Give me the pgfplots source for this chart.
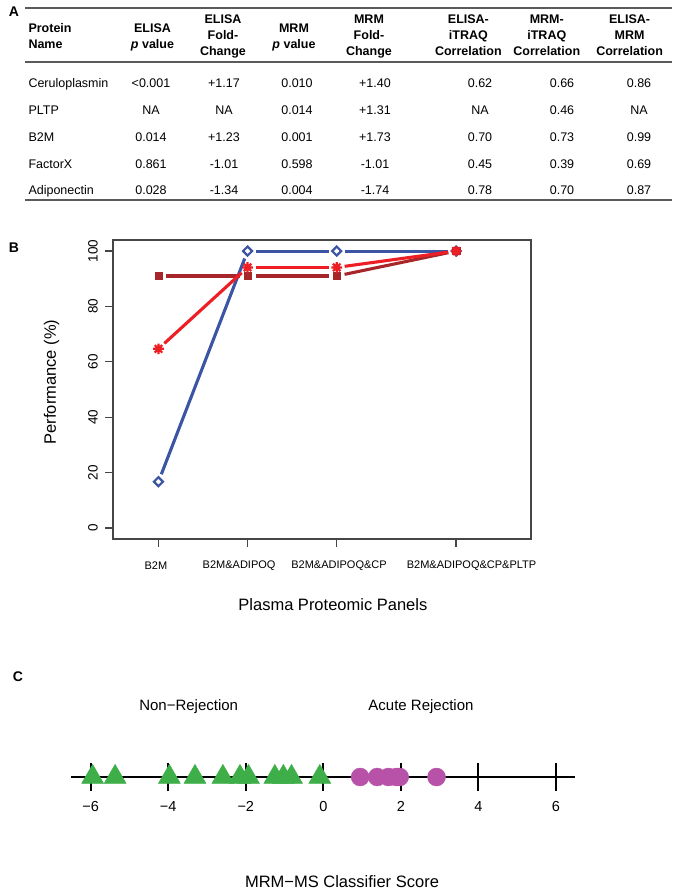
\documentclass[border=0pt]{standalone}
\usepackage{fontspec}
\setmainfont{Liberation Sans}
\usepackage{pgfplots}
\usepackage{pgfplotstable}
\pgfplotsset{compat=1.18}
\definecolor{cblue}{RGB}{59,84,164}
\definecolor{cred}{RGB}{237,30,36}
\definecolor{cdred}{RGB}{167,38,42}
\definecolor{cgreen}{RGB}{62,174,73}
\definecolor{cmag}{RGB}{183,82,168}
\definecolor{rgray}{RGB}{90,90,90}
\definecolor{fgray}{RGB}{70,70,70}

\pgfdeclareplotmark{burst}{%
  \pgfpathcircle{\pgfpointorigin}{0.55\pgfplotmarksize}\pgfusepathqfill
  \pgfpathmoveto{\pgfqpoint{-\pgfplotmarksize}{0pt}}\pgfpathlineto{\pgfqpoint{\pgfplotmarksize}{0pt}}%
  \pgfpathmoveto{\pgfqpoint{0pt}{-\pgfplotmarksize}}\pgfpathlineto{\pgfqpoint{0pt}{\pgfplotmarksize}}%
  \pgfpathmoveto{\pgfqpoint{-0.707\pgfplotmarksize}{-0.707\pgfplotmarksize}}\pgfpathlineto{\pgfqpoint{0.707\pgfplotmarksize}{0.707\pgfplotmarksize}}%
  \pgfpathmoveto{\pgfqpoint{-0.707\pgfplotmarksize}{0.707\pgfplotmarksize}}\pgfpathlineto{\pgfqpoint{0.707\pgfplotmarksize}{-0.707\pgfplotmarksize}}%
  \pgfusepathqstroke}
\pgfdeclareplotmark{rdiamond}{%
  \pgfpathmoveto{\pgfqpoint{0pt}{\pgfplotmarksize}}\pgfpathlineto{\pgfqpoint{\pgfplotmarksize}{0pt}}%
  \pgfpathlineto{\pgfqpoint{0pt}{-\pgfplotmarksize}}\pgfpathlineto{\pgfqpoint{-\pgfplotmarksize}{0pt}}%
  \pgfpathclose\pgfusepathqfillstroke}

\pgfplotstableread{
x blue red dred
1 16.7 64.7 91.0
2 100 94.1 91.0
3 100 94.1 91.0
4.34 100 100 100
}\perf

\pgfplotstableread{
s y
-5.95 0
-5.37 0
-3.97 0
-3.31 0
-2.59 0
-2.15 0
-1.93 0
-1.25 0
-1.03 0
-0.82 0
-0.09 0
}\nonrej

\pgfplotstableread{
s y
0.95 0
1.39 0
1.68 0
1.89 0
1.97 0
2.92 0
}\acute

\tikzset{
  tb/.style={font=\fontsize{12.5}{15}\selectfont, anchor=base, inner sep=0pt},
  tbl/.style={tb, anchor=base west},
  th/.style={font=\bfseries\fontsize{12.5}{15}\selectfont, anchor=base, inner sep=0pt},
  thl/.style={th, anchor=base west},
  plab/.style={font=\bfseries\fontsize{14}{16}\selectfont, anchor=center, inner sep=0pt},
}
\pgfplotsset{seg/.style={no marks, line width=3.1pt, shorten >=8pt, shorten <=8pt}}

\begin{document}
\begin{tikzpicture}
\useasboundingbox (0,0) rectangle (681pt,-891pt);

% ---------------- Panel A (table) ----------------
\node[plab] at (14pt,-12pt) {A};
\draw[rgray, line width=1.8pt] (25pt,-8pt) -- (672pt,-8pt);
\draw[rgray, line width=1.4pt] (25pt,-62pt) -- (672pt,-62pt);
\draw[rgray, line width=1.8pt] (25pt,-200pt) -- (672pt,-200pt);
% headers
\node[thl] at (28.3pt,-32.5pt) {Protein};
\node[thl] at (28.3pt,-48.5pt) {Name};
\node[th] at (152.5pt,-32.5pt) {ELISA};
\node[th] at (152.5pt,-48.5pt) {\textit{p} value};
\node[th] at (223pt,-23.5pt) {ELISA};
\node[th] at (223pt,-39.5pt) {Fold-};
\node[th] at (223pt,-55.5pt) {Change};
\node[th] at (294pt,-32.5pt) {MRM};
\node[th] at (294pt,-48.5pt) {\textit{p} value};
\node[th] at (369pt,-23.5pt) {MRM};
\node[th] at (369pt,-39.5pt) {Fold-};
\node[th] at (369pt,-55.5pt) {Change};
\node[th] at (468.4pt,-23.5pt) {ELISA-};
\node[th] at (468.4pt,-39.5pt) {iTRAQ};
\node[th] at (468.4pt,-55.5pt) {Correlation};
\node[th] at (546.8pt,-23.5pt) {MRM-};
\node[th] at (546.8pt,-39.5pt) {iTRAQ};
\node[th] at (546.8pt,-55.5pt) {Correlation};
\node[th] at (629.6pt,-23.5pt) {ELISA-};
\node[th] at (629.6pt,-39.5pt) {MRM};
\node[th] at (629.6pt,-55.5pt) {Correlation};
% rows
\foreach \yy/\a/\b/\c/\d/\e/\f/\g/\h in {
  87.5/Ceruloplasmin/<0.001/+1.17/0.010/+1.40/0.62/0.66/0.86,
  114.5/PLTP/NA/NA/0.014/+1.31/NA/0.46/NA,
  141.5/B2M/0.014/+1.23/0.001/+1.73/0.70/0.73/0.99,
  168.5/FactorX/0.861/-1.01/0.598/-1.01/0.45/0.39/0.69,
  194.5/Adiponectin/0.028/-1.34/0.004/-1.74/0.78/0.70/0.87}{
  \node[tbl] at (28.3pt,-\yy pt) {\a};
  \node[tb] at (151pt,-\yy pt) {\b};
  \node[tb] at (224pt,-\yy pt) {\c};
  \node[tb] at (297pt,-\yy pt) {\d};
  \node[tb] at (375pt,-\yy pt) {\e};
  \node[tb] at (480pt,-\yy pt) {\f};
  \node[tb] at (562pt,-\yy pt) {\g};
  \node[tb] at (639pt,-\yy pt) {\h};
}

% ---------------- Panel B ----------------
\node[plab] at (14pt,-248pt) {B};
\begin{axis}[
  at={(113pt,-539pt)}, anchor=south west, scale only axis,
  width=418pt, height=299pt,
  xmin=0.49, xmax=5.18, ymin=-4, ymax=104,
  xtick={1,2,3,4.34}, xticklabels={},
  ytick={0,20,40,60,80,100}, yticklabels={0,20,40,60,80,100},
  tick align=outside, major tick length=8pt,
  xtick pos=bottom, ytick pos=left,
  axis line style={fgray, line width=1.3pt},
  tick style={fgray, line width=1.3pt},
  y tick label style={font=\fontsize{13.5}{16}\selectfont, rotate=90, anchor=south, inner ysep=7pt},
  ylabel={Performance (\%)},
  ylabel style={at={(axis description cs:-0.1467,0.525)}, anchor=center, font=\fontsize{16.5}{19}\selectfont},
  xlabel={Plasma Proteomic Panels},
  xlabel style={at={(axis description cs:0.526,-0.221)}, anchor=center, font=\fontsize{16.5}{19}\selectfont},
  clip=false,
]
\addplot[seg, cblue, restrict x to domain=1:2] table[x=x,y=blue]{\perf};
\addplot[seg, cblue, restrict x to domain=2:3] table[x=x,y=blue]{\perf};
\addplot[seg, cblue, restrict x to domain=3:4.5] table[x=x,y=blue]{\perf};
\addplot[only marks, cblue, mark=rdiamond, mark size=4.5pt, mark options={fill=white, line width=2.2pt}] table[x=x,y=blue]{\perf};
\addplot[seg, cdred, restrict x to domain=1:2] table[x=x,y=dred]{\perf};
\addplot[seg, cdred, restrict x to domain=2:3] table[x=x,y=dred]{\perf};
\addplot[seg, cdred, restrict x to domain=3:4.5] table[x=x,y=dred]{\perf};
\addplot[only marks, cdred, mark=square*, mark size=3.6pt] table[x=x,y=dred]{\perf};
\addplot[seg, cred, restrict x to domain=1:2] table[x=x,y=red]{\perf};
\addplot[seg, cred, restrict x to domain=2:3] table[x=x,y=red]{\perf};
\addplot[seg, cred, restrict x to domain=3:4.5] table[x=x,y=red]{\perf};
\addplot[only marks, cred, mark=burst, mark size=5.3pt, mark options={line width=2.2pt}] table[x=x,y=red]{\perf};
\node[font=\fontsize{11}{13}\selectfont] at (axis cs:0.972,-13.77) {B2M};
\node[font=\fontsize{11}{13}\selectfont] at (axis cs:1.905,-13.77) {B2M\&ADIPOQ};
\node[font=\fontsize{11}{13}\selectfont] at (axis cs:3.026,-13.77) {B2M\&ADIPOQ\&CP};
\node[font=\fontsize{11}{13}\selectfont] at (axis cs:4.513,-13.77) {B2M\&ADIPOQ\&CP\&PLTP};
\end{axis}

% ---------------- Panel C ----------------
\node[plab] at (18pt,-677pt) {C};
\node[font=\fontsize{15}{18}\selectfont] at (188.7pt,-707pt) {Non−Rejection};
\node[font=\fontsize{15}{18}\selectfont] at (421pt,-707pt) {Acute Rejection};
\node[font=\fontsize{16.5}{19}\selectfont] at (342pt,-882pt) {MRM−MS Classifier Score};
\begin{axis}[
  at={(71.3pt,-777pt)}, anchor=south west, scale only axis,
  width=504pt, height=20pt,
  xmin=-6.5, xmax=6.5, ymin=0, ymax=1,
  axis x line=bottom, axis y line=none,
  axis line style={-, black, line width=1.3pt},
  xtick={-6,-4,-2,0,2,4,6}, xticklabels={−6,−4,−2,0,2,4,6},
  tick align=center, major tick length=28pt,
  tick style={black, line width=2.2pt},
  x tick label style={font=\fontsize{14.5}{17}\selectfont, anchor=north, inner ysep=10pt},
  clip=false,
]
\addplot[only marks, mark=triangle*, mark size=12.7pt, color=cgreen, mark options={draw=none, fill=cgreen}] table[x=s,y=y]{\nonrej};
\addplot[only marks, mark=*, mark size=9pt, color=cmag, mark options={draw=none, fill=cmag}] table[x=s,y=y]{\acute};
\end{axis}
\end{tikzpicture}
\end{document}
